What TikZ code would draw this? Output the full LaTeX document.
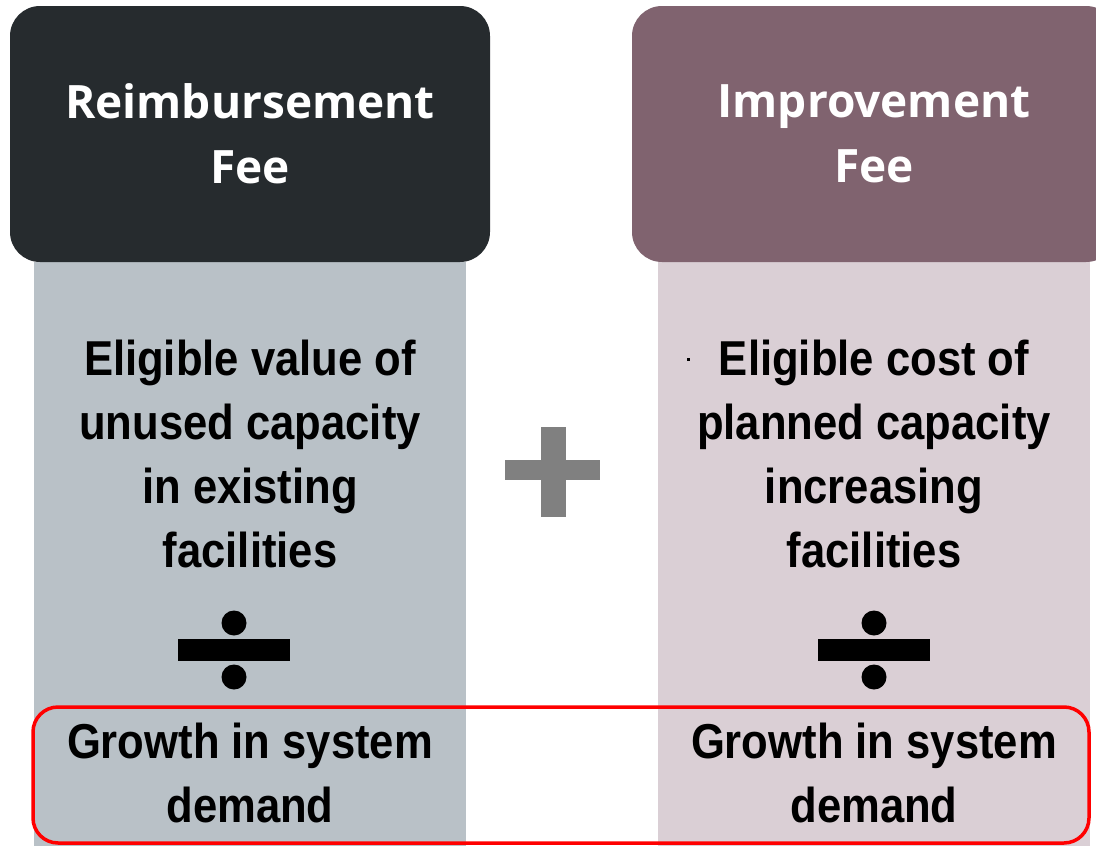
\documentclass[tikz,border=0pt]{standalone}
\usepackage{fontspec}
\setmainfont{Liberation Sans}[FakeStretch=0.89]
\newfontfamily\headfont{Open Sans}
\usepackage{xcolor}
\definecolor{darkhead}{HTML}{262B2E}
\definecolor{mauvehead}{HTML}{80636F}
\definecolor{greycol}{HTML}{B9C1C7}
\definecolor{pinkcol}{HTML}{DACFD5}
\definecolor{plusgrey}{HTML}{808080}
\tikzset{
  head/.style={rounded corners=30pt, minimum width=484pt, minimum height=256pt,
    inner sep=0pt, text=white, align=center,
    font=\headfont\bfseries\fontsize{46}{65}\selectfont},
  column/.style={minimum width=432pt, minimum height=584pt, inner sep=0pt, anchor=north},
  body/.style={inner sep=0pt, align=center, font=\bfseries\fontsize{49}{64}\selectfont},
}

\begin{document}
\begin{tikzpicture}[x=1pt, y=-1pt]
\useasboundingbox (0,0) rectangle (1096,846);
\clip (0,0) rectangle (1096,846);
% columns under the headers
\node[column, fill=greycol] (lcol) at (250,262) {};
\node[column, fill=pinkcol] (rcol) at (874,262) {};
\node[head, fill=darkhead, minimum width=480pt] (lhead) at (250,134) {Reimbursement\\Fee};
\node[head, fill=mauvehead] (rhead) at (874,134) {Improvement\\Fee};
% numerators
\node[body] (lnum) at (250,454) {Eligible value of\\unused capacity\\in existing\\facilities};
\node[body] (rnum) at (874,454) {Eligible cost of\\planned capacity\\increasing\\facilities};
\fill (687,358) rectangle (690,361);
% plus sign
\fill[plusgrey] (505,460) rectangle (600,480);
\fill[plusgrey] (541,427) rectangle (566,517);
% division signs
\foreach \cx in {234,874} {
  \fill (\cx-56,639) rectangle (\cx+56,661);
  \fill (\cx,623) circle (12.5);
  \fill (\cx,677) circle (12.5);
}
% denominators
\node[body] (lden) at (250,773) {Growth in system\\demand};
\node[body] (rden) at (874,773) {Growth in system\\demand};
\draw[red, line width=3.5pt, rounded corners=25pt] (33,707) rectangle (1089,843);
\end{tikzpicture}
\end{document}
